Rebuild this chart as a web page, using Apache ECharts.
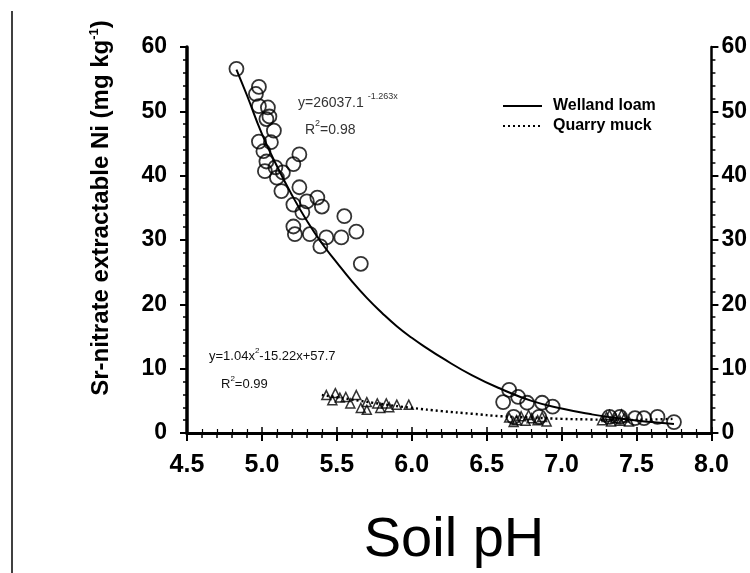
<!DOCTYPE html>
<html>
<head>
<meta charset="utf-8">
<script src="https://cdn.jsdelivr.net/npm/echarts@6/dist/echarts.min.js"></script>
<style>
html,body{margin:0;padding:0;background:#fff;}
#chart{width:750px;height:573px;}
</style>
</head>
<body>
<div id="chart"></div>
<script>
// Welland loam observations [pH, Ni mg/kg]
var wellandPoints = [
  [4.83,56.6],[4.96,52.7],[4.98,53.8],[4.98,50.8],[5.04,50.6],[5.03,48.8],[5.05,49.2],
  [4.98,45.3],[5.06,45.2],[5.01,43.8],[5.03,42.2],[5.25,43.3],[5.21,41.8],[5.02,40.7],
  [5.10,39.7],[5.09,41.3],[5.13,37.6],[5.25,38.2],[5.37,36.6],[5.40,35.2],[5.21,35.5],
  [5.27,34.3],[5.55,33.7],[5.63,31.3],[5.53,30.4],[5.21,32.1],[5.22,30.9],[5.32,30.9],
  [5.39,29.0],[5.43,30.4],[5.66,26.3],[5.08,47.0],[5.14,40.5],[5.30,36.0],
  [6.65,6.7],[6.61,4.8],[6.71,5.6],[6.77,4.7],[6.87,4.7],[6.94,4.1],[6.85,2.5],[6.68,2.5],
  [7.32,2.5],[7.39,2.5],[7.49,2.3],[7.55,2.3],[7.64,2.5],[7.75,1.7]
];
// Quarry muck observations [pH, Ni mg/kg]
var quarryPoints = [
  [5.43,5.9],[5.49,6.2],[5.56,5.6],[5.63,5.9],[5.70,4.8],[5.77,4.6],[5.83,4.6],[5.90,4.4],
  [5.98,4.4],[5.66,3.9],[5.47,5.1],[5.59,4.6],[5.79,3.9],[5.70,3.6],[5.52,5.5],[5.85,4.0],
  [6.65,2.4],[6.70,2.0],[6.73,2.6],[6.76,1.9],[6.80,2.3],[6.84,2.0],[6.87,2.5],[6.90,1.8],
  [6.68,1.7],[6.78,2.8],[7.27,2.0],[7.30,2.5],[7.33,1.8],[7.36,2.3],[7.39,1.9],[7.42,2.4],
  [7.45,1.8],[7.32,2.8],[7.40,2.9]
];
// fitted curves
var wellandFit = [
  [4.83,56.5],[4.9,52.5],[5.0,46.5],[5.1,41.5],[5.2,37.0],[5.3,33.0],[5.4,29.5],[5.5,26.5],
  [5.6,23.6],[5.7,21.0],[5.8,18.7],[5.9,16.6],[6.0,14.8],[6.1,13.2],[6.2,11.7],[6.4,9.0],
  [6.6,6.8],[6.8,5.0],[7.0,3.8],[7.2,2.9],[7.4,2.2],[7.6,1.7],[7.75,1.4]
];
var quarryFit = [
  [5.4,5.9],[5.6,5.2],[5.8,4.5],[6.0,3.9],[6.2,3.4],[6.4,3.0],[6.6,2.6],[6.8,2.4],
  [7.0,2.2],[7.2,2.1],[7.4,2.0],[7.6,2.1],[7.75,2.2]
];
var seriesNames = ['Welland loam','Quarry muck'];
var xTitle = 'Soil pH';
var yTitle = 'Sr-nitrate extractable Ni (mg kg';

var chart = echarts.init(document.getElementById('chart'), null, {renderer:'canvas'});
var FONT = 'Liberation Sans';
var option = {
  animation:false,
  backgroundColor:'#fff',
  grid:{left:187, right:37, top:47, bottom:140},
  legend:{
    data:seriesNames, orient:'vertical', left:497, top:93,
    itemWidth:39, itemHeight:14, itemGap:4,
    itemStyle:{opacity:0},
    textStyle:{fontFamily:FONT, fontWeight:'bold', fontSize:16, color:'#000', padding:[0,0,0,6]}
  },
  xAxis:[{
    type:'value', min:4.5, max:8.0, interval:0.5,
    axisLine:{show:true, lineStyle:{color:'#000', width:3}},
    axisTick:{show:true, length:8, lineStyle:{color:'#000', width:2}},
    minorTick:{show:true, splitNumber:5, length:5, lineStyle:{color:'#000', width:1.5}},
    splitLine:{show:false},
    axisLabel:{margin:20, fontFamily:FONT, fontWeight:'bold', fontSize:25, color:'#000',
      formatter:function(v){return v.toFixed(1);}}
  },{
    type:'value', position:'top', min:4.5, max:8.0, interval:0.5,
    axisLine:{show:true, lineStyle:{color:'#000', width:3}},
    axisTick:{show:true, length:6, lineStyle:{color:'#000', width:1.5}},
    minorTick:{show:true, splitNumber:5, length:4, lineStyle:{color:'#000', width:1.2}},
    splitLine:{show:false}, axisLabel:{show:false}
  }],
  yAxis:[{
    type:'value', min:0, max:60, interval:10,
    axisLine:{show:true, lineStyle:{color:'#000', width:3.5}},
    axisTick:{show:true, length:7, lineStyle:{color:'#000', width:2}},
    minorTick:{show:true, splitNumber:5, length:4, lineStyle:{color:'#000', width:1.5}},
    splitLine:{show:false},
    axisLabel:{margin:20, fontFamily:FONT, fontWeight:'bold', fontSize:23, color:'#000'}
  },{
    type:'value', position:'right', min:0, max:60, interval:10,
    axisLine:{show:true, lineStyle:{color:'#000', width:2.5}},
    axisTick:{show:true, length:7, lineStyle:{color:'#000', width:2}},
    minorTick:{show:true, splitNumber:5, length:4, lineStyle:{color:'#000', width:1.5}},
    splitLine:{show:false},
    axisLabel:{margin:10, fontFamily:FONT, fontWeight:'bold', fontSize:23, color:'#000'}
  }],
  series:[
    {name:'Welland obs', type:'scatter', data:wellandPoints, symbol:'circle', symbolSize:14,
      itemStyle:{color:'rgba(255,255,255,0)', borderColor:'#000', borderWidth:1.8}, z:3},
    {name:'Quarry obs', type:'scatter', data:quarryPoints, symbol:'triangle', symbolSize:9,
      itemStyle:{color:'rgba(255,255,255,0)', borderColor:'#000', borderWidth:1.5}, z:3},
    {name:seriesNames[0], type:'line', data:wellandFit, smooth:true, symbol:'none',
      lineStyle:{color:'#000', width:2, type:'solid'}, itemStyle:{color:'#000'}, z:4},
    {name:seriesNames[1], type:'line', data:quarryFit, smooth:true, symbol:'none',
      lineStyle:{color:'#000', width:2.4, type:[2,3]}, itemStyle:{color:'#000'}, z:4}
  ],
  graphic:[
    {type:'line', shape:{x1:12, y1:11, x2:12, y2:573}, style:{stroke:'#000', lineWidth:1.5}},
    {type:'text', x:101, y:208, rotation:Math.PI/2, style:{
      text:'{t|' + yTitle + '}{s|-1}{t|)}', align:'center', verticalAlign:'middle',
      rich:{t:{fontFamily:FONT, fontWeight:'bold', fontSize:24, fill:'#000'},
            s:{fontFamily:FONT, fontWeight:'bold', fontSize:13, fill:'#000', padding:[0,0,14,0]}}}},
    {type:'text', x:454, y:541, style:{text:xTitle, align:'center', verticalAlign:'middle',
      fontFamily:FONT, fontSize:56, fill:'#000'}},
    {type:'text', x:298, y:103, style:{text:'{a|y=26037.1 }{b|-1.263x}', verticalAlign:'middle',
      rich:{a:{fontFamily:FONT, fontSize:14, fill:'#333'}, b:{fontFamily:FONT, fontSize:9, fill:'#333', padding:[0,0,12,0]}}}},
    {type:'text', x:305, y:130, style:{text:'{a|R}{b|2}{a|=0.98}', verticalAlign:'middle',
      rich:{a:{fontFamily:FONT, fontSize:14, fill:'#333'}, b:{fontFamily:FONT, fontSize:9, fill:'#333', padding:[0,0,12,0]}}}},
    {type:'text', x:209, y:356, style:{text:'{a|y=1.04x}{b|2}{a|-15.22x+57.7}', verticalAlign:'middle',
      rich:{a:{fontFamily:FONT, fontSize:13, fill:'#111'}, b:{fontFamily:FONT, fontSize:8, fill:'#111', padding:[0,0,10,0]}}}},
    {type:'text', x:221, y:384, style:{text:'{a|R}{b|2}{a|=0.99}', verticalAlign:'middle',
      rich:{a:{fontFamily:FONT, fontSize:13, fill:'#111'}, b:{fontFamily:FONT, fontSize:8, fill:'#111', padding:[0,0,10,0]}}}}
  ]
};
chart.setOption(option);
</script>
</body>
</html>
